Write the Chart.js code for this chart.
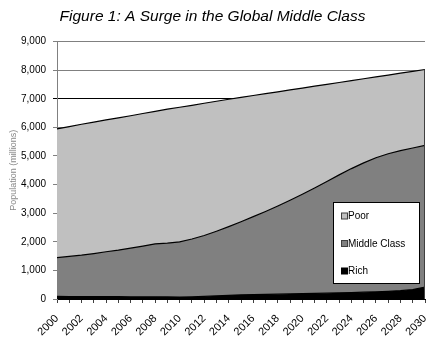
<!DOCTYPE html>
<html>
<head>
<meta charset="utf-8">
<script src="https://cdn.jsdelivr.net/npm/chart.js@4"></script>
<style>
html,body{margin:0;padding:0;background:#fff;}
#wrap{width:433px;height:353px;position:relative;}
</style>
</head>
<body>
<div id="wrap"><canvas id="c" width="433" height="353"></canvas></div>
<script>
const years = ["2000","2001","2002","2003","2004","2005","2006","2007","2008","2009","2010","2011","2012","2013","2014","2015","2016","2017","2018","2019","2020","2021","2022","2023","2024","2025","2026","2027","2028","2029","2030"];
const rich = [90,88,86,84,82,80,78,76,75,72,70,78,90,110,130,145,155,162,170,178,185,195,205,215,225,238,250,268,290,330,420];
const middleClass = [1360,1400,1445,1505,1570,1630,1700,1775,1855,1880,1930,2020,2130,2260,2400,2555,2725,2898,3080,3272,3475,3685,3905,4125,4335,4522,4690,4812,4900,4950,4950];
const poor = [4500,4540,4580,4595,4610,4625,4630,4635,4630,4685,4705,4675,4625,4545,4455,4350,4235,4120,3995,3860,3715,3560,3395,3230,3075,2940,2825,2750,2705,2680,2655];
const yTicks = [0,1000,2000,3000,4000,5000,6000,7000,8000,9000];

const FONT = "'Liberation Sans', Arial, sans-serif";

const legendPlugin = {
  id: 'boxLegend',
  afterDraw(chart) {
    const ctx = chart.ctx;
    const area = chart.chartArea;
    const top = chart.getDatasetMeta(2).data[years.length - 1];
    ctx.save();
    ctx.strokeStyle = '#404040';
    ctx.lineWidth = 1;
    ctx.beginPath();
    ctx.moveTo(Math.round(area.right) - 0.5, top.y);
    ctx.lineTo(Math.round(area.right) - 0.5, area.bottom);
    ctx.stroke();
    const bx = 333.5, by = 202.5, bw = 86, bh = 81;
    ctx.fillStyle = '#ffffff';
    ctx.fillRect(bx, by, bw, bh);
    ctx.strokeStyle = '#000000';
    ctx.strokeRect(bx, by, bw, bh);
    const order = [2, 1, 0];
    const ys = [216, 243.5, 271];
    ctx.font = '10px ' + FONT;
    ctx.textBaseline = 'middle';
    ctx.textAlign = 'left';
    order.forEach((di, i) => {
      const ds = chart.data.datasets[di];
      ctx.fillStyle = ds.backgroundColor;
      ctx.fillRect(341.5, ys[i] - 3, 6, 6);
      ctx.strokeStyle = di === 0 ? '#000' : '#404040';
      ctx.strokeRect(341.5, ys[i] - 3, 6, 6);
      ctx.fillStyle = '#000';
      ctx.fillText(ds.label, 348, ys[i] + 0.5);
    });
    ctx.restore();
  }
};

new Chart(document.getElementById('c'), {
  type: 'line',
  data: {
    labels: years,
    datasets: [
      { label: 'Rich', data: rich, backgroundColor: '#000000', borderColor: '#000000', fill: 'origin' },
      { label: 'Middle Class', data: middleClass, backgroundColor: '#808080', borderColor: '#000000', fill: '-1' },
      { label: 'Poor', data: poor, backgroundColor: '#C0C0C0', borderColor: '#000000', fill: '-1' }
    ]
  },
  options: {
    responsive: false,
    animation: false,
    devicePixelRatio: 1,
    elements: {
      point: { radius: 0, hoverRadius: 0 },
      line: { borderWidth: 1.2, tension: 0 }
    },
    layout: { padding: { left: 0, right: 8, top: 0, bottom: 0 } },
    plugins: {
      legend: { display: false },
      tooltip: { enabled: false },
      title: {
        display: true,
        text: 'Figure 1: A Surge in the Global Middle Class',
        color: '#000',
        font: { family: FONT, size: 15.5, style: 'italic', weight: 'normal' },
        padding: { top: 7, bottom: 16 }
      }
    },
    scales: {
      x: {
        offset: false,
        grid: { display: true, drawOnChartArea: false, drawTicks: true, tickLength: 4, color: '#404040' },
        border: { display: true, color: '#000000' },
        ticks: {
          autoSkip: false,
          maxRotation: 45,
          minRotation: 45,
          padding: 9,
          color: '#000',
          font: { family: FONT, size: 11 },
          callback: function(v, i) { return i % 2 === 0 ? years[i] : ''; }
        },
        afterFit(scale) { scale.height = 54; scale.paddingLeft = 0; scale.paddingRight = 0; }
      },
      y: {
        stacked: true,
        min: 0,
        max: 9000,
        afterBuildTicks(scale) { scale.ticks = yTicks.map(v => ({ value: v })); },
        grid: {
          color: (c) => c.tick && c.tick.value === 7000 ? '#000000' : '#808080',
          tickLength: 4,
          drawTicks: true
        },
        border: { display: true, color: '#808080' },
        ticks: {
          color: '#000',
          padding: 7,
          font: { family: FONT, size: 10 },
          callback: (v) => v.toLocaleString('en-US')
        },
        title: {
          display: true,
          text: 'Population (millions)',
          color: '#888888',
          font: { family: FONT, size: 9 },
          padding: { top: 8, bottom: 0 }
        },
        afterFit(scale) { scale.width = 57; }
      }
    }
  },
  plugins: [legendPlugin]
});
</script>
</body>
</html>
